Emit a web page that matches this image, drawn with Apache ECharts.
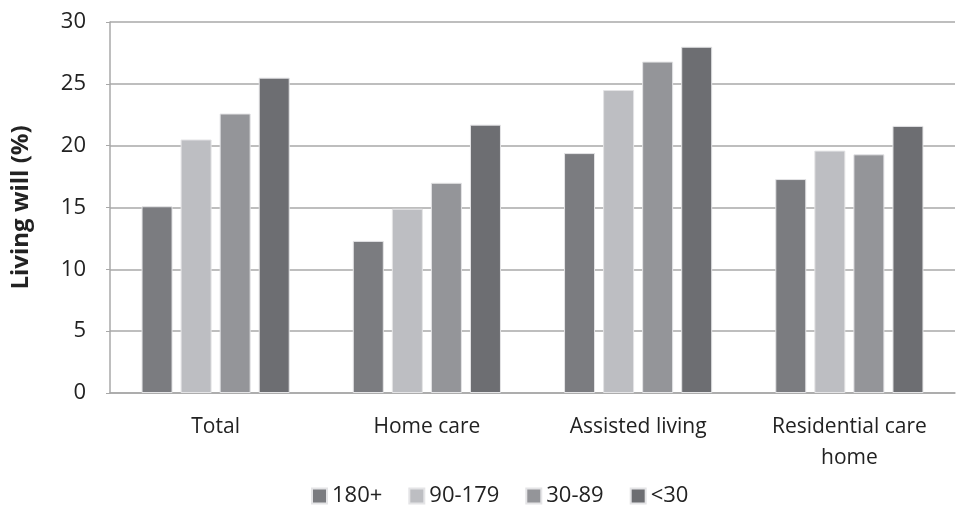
<!DOCTYPE html>
<html><head><meta charset="utf-8">
<script src="https://cdn.jsdelivr.net/npm/echarts@6/dist/echarts.min.js"></script>
<style>html,body{margin:0;padding:0;background:#fff}#c{width:958px;height:526px}</style>
</head><body><div id="c"></div>
<script>
const categories = ['Total', 'Home care', 'Assisted living', 'Residential care\nhome'];
const seriesNames = ['180+', '90-179', '30-89', '<30'];
const s180 = [15.1, 12.3, 19.4, 17.3];
const s90 = [20.5, 14.9, 24.5, 19.6];
const s30 = [22.6, 17.0, 26.8, 19.3];
const sLt30 = [25.5, 21.7, 28.0, 21.6];
const colors = ['#7b7c80', '#bdbec2', '#949599', '#6d6e72'];
const yTicks = [0, 5, 10, 15, 20, 25, 30];

const font = '"Open Sans", "Liberation Sans", sans-serif';
const data = [s180, s90, s30, sLt30];
const chart = echarts.init(document.getElementById('c'));
chart.setOption({
  animation: false,
  textStyle: { fontFamily: font },
  grid: { left: 110, right: 3, top: 22, bottom: 133, containLabel: false, outerBoundsMode: 'none' },
  legend: {
    bottom: 14, left: 306, itemWidth: 15, itemHeight: 15, itemGap: 26,
    icon: 'rect',
    textStyle: { fontSize: 22, color: '#222', fontFamily: font },
    data: seriesNames
  },
  xAxis: {
    type: 'category', data: categories,
    axisLine: { lineStyle: { color: '#a8a8a8', width: 1.5 } },
    axisTick: { show: false },
    axisLabel: { fontSize: 21, color: '#222', margin: 19, lineHeight: 31, fontFamily: font }
  },
  yAxis: {
    type: 'value', min: yTicks[0], max: yTicks[yTicks.length - 1], interval: 5,
    name: 'Living will (%)', nameLocation: 'middle', nameGap: 77, nameRotate: 90,
    nameTextStyle: { fontSize: 24, fontWeight: 'bold', color: '#222', fontFamily: font },
    axisLine: { show: true, lineStyle: { color: '#a8a8a8', width: 1.5 } },
    axisTick: { show: true, length: 4, lineStyle: { color: '#a8a8a8' } },
    splitLine: { lineStyle: { color: '#a8a8a8', width: 1.5 } },
    axisLabel: { fontSize: 22, color: '#222', margin: 24, fontFamily: font }
  },
  series: seriesNames.map((n, i) => ({
    name: n, type: 'bar', data: data[i],
    barWidth: 31, barGap: '26%',
    itemStyle: { color: colors[i], borderColor: '#e4e4e6', borderWidth: 1 }
  }))
});
</script></body></html>
